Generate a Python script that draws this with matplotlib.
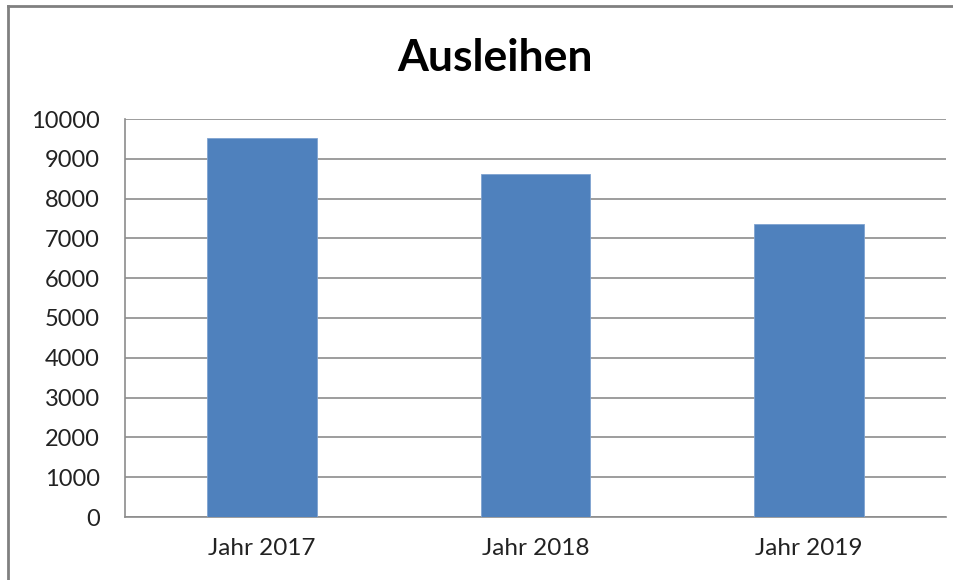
import matplotlib
matplotlib.use('Agg')
import matplotlib.pyplot as plt
from matplotlib.lines import Line2D

categories = ['Jahr 2017', 'Jahr 2018', 'Jahr 2019']
ausleihen = [9530, 8625, 7365]
y_ticks = list(range(0, 10001, 1000))

plt.rcParams['font.family'] = ['Lato', 'DejaVu Sans']

fig = plt.figure(figsize=(9.54, 5.8), dpi=100)
ax = fig.add_axes([125 / 954, 1 - 517 / 580, 821 / 954, 398 / 580])

ax.bar(range(len(categories)), ausleihen, width=0.4, color='#4F81BD',
       edgecolor='#7FA3D0', linewidth=0.6, zorder=3)
ax.set_xlim(-0.5, len(categories) - 0.5)
ax.set_ylim(0, 10000)
ax.set_yticks(y_ticks)
ax.set_yticklabels([str(v) for v in y_ticks], fontsize=17, color='#222222')
ax.set_xticks(range(len(categories)))
ax.set_xticklabels(categories, fontsize=17.5, color='#222222')
ax.tick_params(axis='x', length=0, pad=15)
ax.tick_params(axis='y', length=0, pad=18)

ax.grid(axis='y', color='#8c8c8c', linewidth=1.2, zorder=0)
for s in ['top', 'right']:
    ax.spines[s].set_visible(False)
ax.spines['left'].set_color('#8c8c8c')
ax.spines['bottom'].set_color('#8c8c8c')
ax.spines['left'].set_linewidth(1.2)
ax.spines['bottom'].set_linewidth(1.2)

fig.text(495 / 954, 1 - 58 / 580, 'Ausleihen', ha='center', va='center',
         fontsize=32, fontweight='bold', color='black')

# outer chart border (only left and top edges visible in the crop)
fig.add_artist(Line2D([8 / 954, 8 / 954], [0, 1 - 6 / 580], color='#808080', linewidth=2,
                      transform=fig.transFigure))
fig.add_artist(Line2D([8 / 954, 1], [1 - 6 / 580, 1 - 6 / 580], color='#808080', linewidth=2,
                      transform=fig.transFigure))

fig.savefig('out.png', dpi=100)
